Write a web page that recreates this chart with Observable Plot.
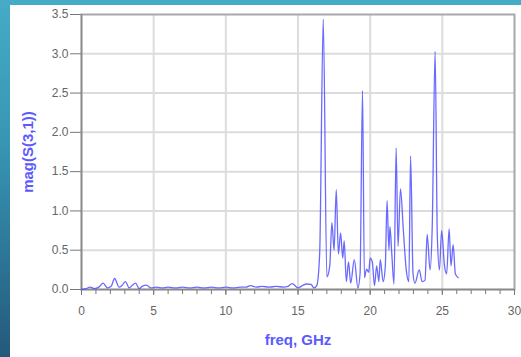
<!DOCTYPE html>
<html>
<head>
<meta charset="utf-8">
<script src="https://cdn.jsdelivr.net/npm/d3@7"></script>
<script src="https://cdn.jsdelivr.net/npm/@observablehq/plot@0.6"></script>
<style>
  html, body { margin: 0; padding: 0; }
  body { width: 521px; height: 357px; overflow: hidden; background: linear-gradient(to bottom, #45abc7 0%, #3796b4 40%, #24597b 100%); position: relative; }
  #panel { position: absolute; left: 10px; top: 5px; width: 511px; height: 352px; background: #fff; }
</style>
</head>
<body>
<div id="panel"></div>
<script>
const freq = [0, 0.3, 0.6, 0.9, 1.2, 1.5, 1.8, 2.05, 2.3, 2.6, 2.8, 3.05, 3.3, 3.5, 3.75, 4.0, 4.2, 4.5, 4.8, 5.2, 5.6, 6.0, 6.5, 7.0, 7.5, 8.0, 8.5, 9.0, 9.5, 10.0, 10.5, 11.0, 11.4, 11.7, 12.1, 12.5, 13.0, 13.5, 14.0, 14.3, 14.6, 15.0, 15.3, 15.6, 15.9, 16.1, 16.3, 16.5, 16.75, 17.0, 17.2, 17.35, 17.5, 17.65, 17.8, 17.95, 18.1, 18.2, 18.35, 18.5, 18.65, 18.9, 19.15, 19.3, 19.47, 19.6, 19.75, 19.9, 20.0, 20.15, 20.3, 20.45, 20.6, 20.7, 20.9, 21.05, 21.17, 21.3, 21.37, 21.5, 21.65, 21.8, 21.93, 22.1, 22.3, 22.5, 22.68, 22.8, 22.97, 23.1, 23.4, 23.6, 23.8, 23.95, 24.15, 24.3, 24.5, 24.65, 24.8, 24.95, 25.15, 25.3, 25.47, 25.6, 25.75, 25.9, 26.1];
const mag = [0.0, 0.01, 0.03, 0.01, 0.03, 0.08, 0.02, 0.04, 0.14, 0.03, 0.05, 0.1, 0.02, 0.05, 0.08, 0.01, 0.04, 0.055, 0.02, 0.03, 0.02, 0.03, 0.02, 0.03, 0.02, 0.03, 0.02, 0.03, 0.02, 0.03, 0.02, 0.03, 0.03, 0.05, 0.03, 0.04, 0.03, 0.04, 0.03, 0.04, 0.075, 0.02, 0.05, 0.07, 0.065, 0.02, 0.05, 0.45, 3.44, 0.16, 0.3, 0.85, 0.5, 1.27, 0.45, 0.72, 0.4, 0.62, 0.1, 0.35, 0.08, 0.38, 0.02, 0.2, 2.53, 0.15, 0.26, 0.22, 0.4, 0.35, 0.05, 0.3, 0.1, 0.38, 0.1, 0.3, 1.13, 0.5, 0.8, 0.45, 0.07, 1.8, 0.55, 1.28, 0.75, 0.25, 0.1, 1.7, 0.2, 0.08, 0.25, 0.1, 0.12, 0.7, 0.25, 0.8, 3.03, 0.7, 0.25, 0.75, 0.3, 0.2, 0.77, 0.3, 0.57, 0.2, 0.15];
const xMajor = [0, 5, 10, 15, 20, 25, 30];
const xMinor = d3.range(0, 31);
const yTicks = [0, 0.5, 1.0, 1.5, 2.0, 2.5, 3.0, 3.5];
const xLabel = "freq, GHz";
const yLabel = "mag(S(3,1))";

const data = freq.map((f, i) => ({f, m: mag[i]}));

const chart = Plot.plot({
  width: 511, height: 352,
  marginLeft: 71, marginRight: 7, marginTop: 9, marginBottom: 68,
  x: {domain: [0, 30]},
  y: {domain: [0, 3.5]},
  style: {fontFamily: "'Liberation Sans', Arial, sans-serif", fontSize: "12px", color: "#666", background: "white"},
  marks: [
    Plot.gridX(xMajor.filter(v => v > 0 && v < 30), {stroke: "#dcdcdc", strokeOpacity: 1, strokeWidth: 2}),
    Plot.gridY(yTicks.filter(v => v > 0 && v < 3.5), {stroke: "#dcdcdc", strokeOpacity: 1, strokeWidth: 2}),
    Plot.frame({stroke: "#a8a8a8", strokeWidth: 2}),
    Plot.axisX(xMinor, {tickSize: 5, tickFormat: () => "", stroke: "#777", label: null}),
    Plot.axisX(xMajor, {tickSize: 6, tickPadding: 11, stroke: "#777", fill: "#666", label: null}),
    Plot.axisY(yTicks, {tickSize: 11, tickPadding: 2, stroke: "#777", fill: "#666", label: null, tickFormat: d3.format(".1f")}),
    Plot.ruleY([0], {stroke: "#8a8a8a", strokeWidth: 1.5}),
    Plot.ruleX([0], {stroke: "#8a8a8a", strokeWidth: 1.5}),
    Plot.line(data, {x: "f", y: "m", stroke: "#5050ff", strokeWidth: 1.3, strokeOpacity: 0.85, curve: "monotone-x"}),
    Plot.text([xLabel], {text: d => d, frameAnchor: "bottom", lineAnchor: "middle", textAnchor: "middle", dy: 51, fill: "#5a5aff", fontWeight: "bold", fontSize: 15}),
    Plot.text([yLabel], {text: d => d, frameAnchor: "left", lineAnchor: "middle", textAnchor: "middle", dx: -53, rotate: -90, fill: "#5a5aff", fontWeight: "bold", fontSize: 15})
  ]
});
document.getElementById("panel").appendChild(chart);
</script>
</body>
</html>
